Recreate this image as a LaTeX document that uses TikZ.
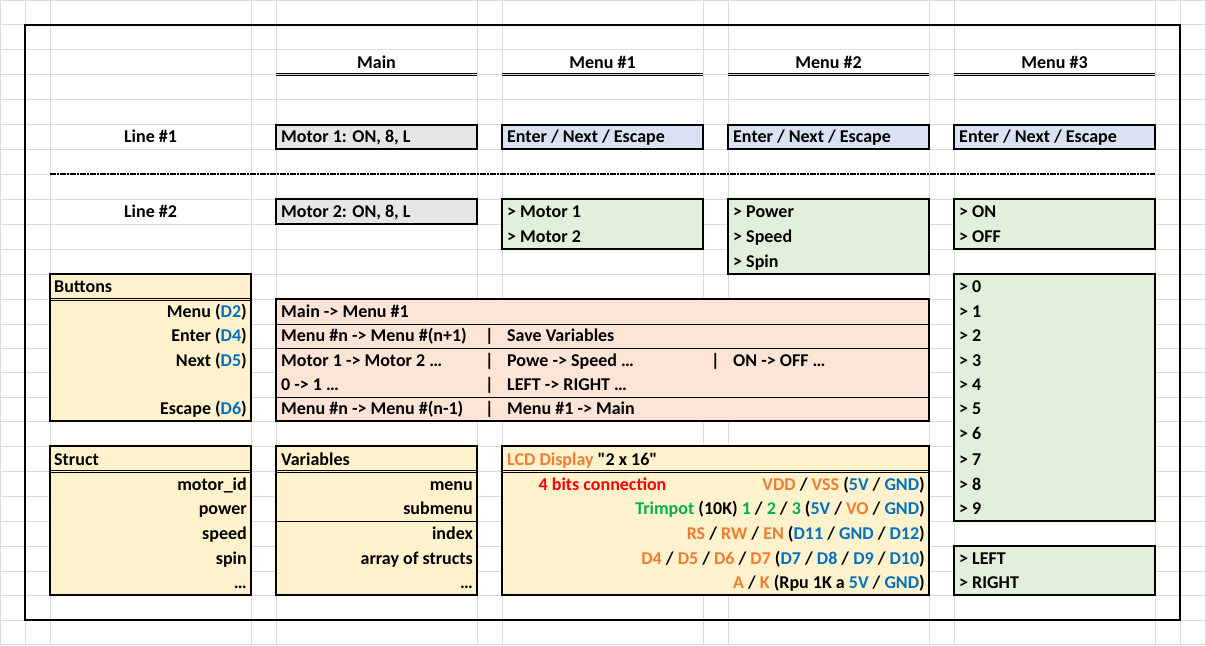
\documentclass[tikz,border=0pt]{standalone}
\usepackage{fontspec}
\setmainfont{Carlito}[Ligatures=TeXOff]
\definecolor{gridc}{RGB}{218,218,218}
\definecolor{fgray}{RGB}{231,230,230}
\definecolor{fblue}{RGB}{217,225,242}
\definecolor{fgreen}{RGB}{226,239,218}
\definecolor{fyellow}{RGB}{255,242,204}
\definecolor{fpink}{RGB}{252,228,214}
\definecolor{xblue}{RGB}{0,112,192}
\definecolor{xorange}{RGB}{237,125,49}
\definecolor{xgreen}{RGB}{0,176,80}
\definecolor{xred}{RGB}{255,0,0}
\newcommand{\cB}[1]{\textcolor{xblue}{#1}}
\newcommand{\cO}[1]{\textcolor{xorange}{#1}}
\newcommand{\cG}[1]{\textcolor{xgreen}{#1}}
\begin{document}
\begin{tikzpicture}[x=1pt,y=-1pt,
  every node/.style={inner sep=0pt, font=\fontsize{18}{20}\selectfont\bfseries},
  tl/.style={anchor=base west},
  tr/.style={anchor=base east},
  tc/.style={anchor=base},
  gridline/.style={gridc, line width=1pt},
  thickbox/.style={draw=black, line width=2pt},
  thinline/.style={black, line width=1pt},
  dbl/.style={black, line width=0.8pt},
  sepline/.style={black, line width=2pt, dash pattern=on 6pt off 1pt on 2pt off 1pt}]
\useasboundingbox (0,0) rectangle (1206,645);
% grid
\foreach \x in {0.5,25,50,251,276,477,502,703,728,929,954,1155,1180,1205}
  \draw[gridline] (\x,0) -- (\x,645);
\foreach \y in {0.5,24.7,49.7,74.7,99.7,124.7,149.3,174.3,199.2,224,249,274.3,299.3,324.3,348.3,372.7,397,421.2,446,471.5,496.5,521.3,546.2,571,595.3,620,644}
  \draw[gridline] (0,\y) -- (1206,\y);
% outer frame
\draw[black, line width=2pt] (25,24.7) rectangle (1180,620);

% headers
\node[tc] (hMain) at (376.5,68.2) {Main};
\node[tc] (hM1) at (602.5,68.2) {Menu \#1};
\node[tc] (hM2) at (828.5,68.2) {Menu \#2};
\node[tc] (hM3) at (1054.5,68.2) {Menu \#3};
\foreach \a/\b in {276/477,502/703,728/929,954/1155}{
  \draw[dbl] (\a,73.3) -- (\b,73.3);
  \draw[dbl] (\a,75.6) -- (\b,75.6);
}

% Line #1
\node[tc] (line1) at (150.5,142.8) {Line \#1};
\filldraw[fill=fgray, thickbox] (276,124.7) rectangle (477,149.3);
\node[tl] (m1) at (281,142.8) {Motor 1: ON, 8, L};
\foreach \a/\b/\n in {502/703/e1,728/929/e2,954/1155/e3}{
  \filldraw[fill=fblue, thickbox] (\a,124.7) rectangle (\b,149.3);
  \node[tl] (\n) at (\a+5,142.8) {Enter / Next / Escape};
}
% separator
\coordinate (sepL) at (50,174.3);
\coordinate (sepR) at (1155,174.3);
\draw[sepline] (sepL) -- (sepR);

% Line #2
\node[tc] (line2) at (150.5,217.5) {Line \#2};
\filldraw[fill=fgray, thickbox] (276,199.2) rectangle (477,224);
\node[tl] (m2) at (281,217.5) {Motor 2: ON, 8, L};
\filldraw[fill=fgreen, thickbox] (502,199.2) rectangle (703,249);
\node[tl] (s11) at (507,217.5) {> Motor 1};
\node[tl] (s12) at (507,242.5) {> Motor 2};
\filldraw[fill=fgreen, thickbox] (728,199.2) rectangle (929,274.3);
\node[tl] (s21) at (733,217.5) {> Power};
\node[tl] (s22) at (733,242.5) {> Speed};
\node[tl] (s23) at (733,267.8) {> Spin};
\filldraw[fill=fgreen, thickbox] (954,199.2) rectangle (1155,249);
\node[tl] (s31) at (959,217.5) {> ON};
\node[tl] (s32) at (959,242.5) {> OFF};

% numbers box
\filldraw[fill=fgreen, thickbox] (954,274.3) rectangle (1155,521.3);
\foreach \k/\yb in {0/292.8,1/317.8,2/341.8,3/366.2,4/390.5,5/414.7,6/439.5,7/465,8/490,9/514.8}
  \node[tl] (n\k) at (959,\yb) {> \k};
% left/right box
\filldraw[fill=fgreen, thickbox] (954,546.2) rectangle (1155,595.3);
\node[tl] (sL) at (959,564.5) {> LEFT};
\node[tl] (sR) at (959,588.8) {> RIGHT};

% Buttons box
\fill[fyellow] (50,274.3) rectangle (251,421.2);
\draw[dbl] (50,298.2) -- (251,298.2);
\draw[dbl] (50,300.5) -- (251,300.5);
\draw[thickbox] (50,274.3) rectangle (251,421.2);
\node[tl] (btn) at (54,292.8) {Buttons};
\node[tr] (bMenu) at (247,317.8) {Menu (\cB{D2})};
\node[tr] (bEnter) at (247,341.8) {Enter (\cB{D4})};
\node[tr] (bNext) at (247,366.2) {Next (\cB{D5})};
\node[tr] (bEsc) at (247,414.7) {Escape (\cB{D6})};

% Pink actions box
\fill[fpink] (276,299.3) rectangle (929,421.2);
\foreach \y in {324.3,348.3,397}
  \draw[thinline] (276,\y) -- (929,\y);
\draw[thickbox] (276,299.3) rectangle (929,421.2);
\node[tl] (a1) at (281,317.8) {Main -> Menu \#1};
\node[tl] (a2) at (281,341.8) {Menu \#n -> Menu \#(n+1)};
\node[tc] (p2) at (489.5,341.8) {|};
\node[tl] (a2b) at (507,341.8) {Save Variables};
\node[tl] (a3) at (281,366.2) {Motor 1 -> Motor 2 …};
\node[tc] (p3) at (489.5,366.2) {|};
\node[tl] (a3b) at (507,366.2) {Powe -> Speed …};
\node[tc] (p3b) at (715.5,366.2) {|};
\node[tl] (a3c) at (733,366.2) {ON -> OFF …};
\node[tl] (a4) at (281,390.5) {0 -> 1 …};
\node[tc] (p4) at (489.5,390.5) {|};
\node[tl] (a4b) at (507,390.5) {LEFT -> RIGHT …};
\node[tl] (a5) at (281,414.7) {Menu \#n -> Menu \#(n-1)};
\node[tc] (p5) at (489.5,414.7) {|};
\node[tl] (a5b) at (507,414.7) {Menu \#1 -> Main};

% Struct box
\fill[fyellow] (50,446) rectangle (251,595.3);
\draw[dbl] (50,470.4) -- (251,470.4);
\draw[dbl] (50,472.7) -- (251,472.7);
\draw[thickbox] (50,446) rectangle (251,595.3);
\node[tl] (st) at (54,465) {Struct};
\node[tr] (st1) at (247,490) {motor\_id};
\node[tr] (st2) at (247,514.8) {power};
\node[tr] (st3) at (247,539.7) {speed};
\node[tr] (st4) at (247,564.5) {spin};
\node[tr] (st5) at (247,588.8) {…};

% Variables box
\fill[fyellow] (276,446) rectangle (477,595.3);
\draw[dbl] (276,470.4) -- (477,470.4);
\draw[dbl] (276,472.7) -- (477,472.7);
\draw[thinline] (276,521.3) -- (477,521.3);
\draw[thickbox] (276,446) rectangle (477,595.3);
\node[tl] (va) at (281,465) {Variables};
\node[tr] (va1) at (473,490) {menu};
\node[tr] (va2) at (473,514.8) {submenu};
\node[tr] (va3) at (473,539.7) {index};
\node[tr] (va4) at (473,564.5) {array of structs};
\node[tr] (va5) at (473,588.8) {…};

% LCD box
\fill[fyellow] (502,446) rectangle (929,595.3);
\draw[dbl] (502,470.4) -- (929,470.4);
\draw[dbl] (502,472.7) -- (929,472.7);
\draw[thickbox] (502,446) rectangle (929,595.3);
\node[tl] (lcd) at (507,465) {\cO{LCD Display} "2 x 16"};
\node[tc] (bits) at (602.5,490) {\textcolor{xred}{4 bits connection}};
\node[tr] (l1) at (925,490) {\cO{VDD} / \cO{VSS} (\cB{5V} / \cB{GND})};
\node[tr] (l2) at (925,514.8) {\cG{Trimpot} (10K) \cG{1} / \cG{2} / \cG{3} (\cB{5V} / \cO{VO} / \cB{GND})};
\node[tr] (l3) at (925,539.7) {\cO{RS} / \cO{RW} / \cO{EN} (\cB{D11} / \cB{GND} / \cB{D12})};
\node[tr] (l4) at (925,564.5) {\cO{D4} / \cO{D5} / \cO{D6} / \cO{D7} (\cB{D7} / \cB{D8} / \cB{D9} / \cB{D10})};
\node[tr] (l5) at (925,588.8) {\cO{A} / \cO{K} (Rpu 1K a \cB{5V} / \cB{GND})};
\end{tikzpicture}
\end{document}
